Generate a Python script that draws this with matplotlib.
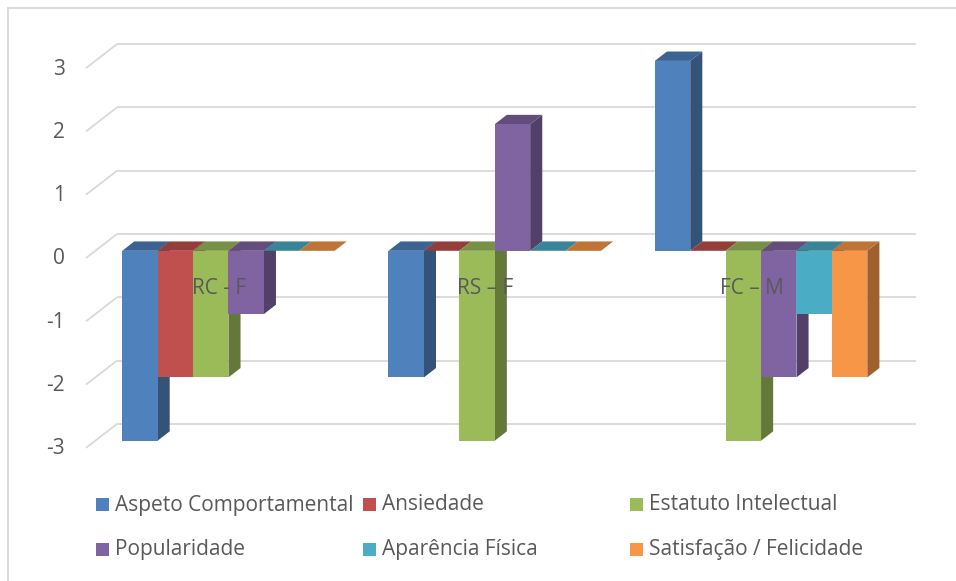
import matplotlib
matplotlib.use("Agg")
import matplotlib.pyplot as plt
from matplotlib.patches import Polygon, Rectangle
import numpy as np

# ---------------- data ----------------
categories = ["RC - F", "RS – F", "FC – M"]
series = ["Aspeto Comportamental", "Ansiedade", "Estatuto Intelectual",
          "Popularidade", "Aparência Física", "Satisfação / Felicidade"]
aspeto = [-3, -2, 3]
ansiedade = [-2, 0, 0]
estatuto = [-2, -3, -3]
popularidade = [-1, 2, -2]
aparencia = [0, 0, -1]
satisfacao = [0, 0, -2]
yticks = [3, 2, 1, 0, -1, -2, -3]

values = [aspeto, ansiedade, estatuto, popularidade, aparencia, satisfacao]
colors = ["#4F81BD", "#C0504D", "#9BBB59", "#8064A2", "#4BACC6", "#F79646"]

# ---------------- layout (pixel geometry) ----------------
W, H = 956, 581
X0PX, CATPX = 86.0, 266.3      # front plane left, pixels per category
Y0PX, UNITPX = 258.0, 63.3     # front plane zero, pixels per unit
DX = 31.0 / CATPX              # full depth offset (data units)
DY = 24.0 / UNITPX
D_FRONT, D_BAR = 0.30, 0.39    # bar front-face depth fraction and bar depth
GAP = 0.101
BW = 0.133

FONT = ["Open Sans", "DejaVu Sans"]
TXT = "#595959"
GRID = "#D9D9D9"
FS = 15.0

plt.rcParams["font.family"] = FONT

fig = plt.figure(figsize=(W / 100, H / 100), dpi=100)
ax = fig.add_axes([0, 0, 1, 1])
ax.set_xlim(-X0PX / CATPX, (W - X0PX) / CATPX)
ax.set_ylim((Y0PX - H) / UNITPX, Y0PX / UNITPX)
ax.axis("off")


def shade(c, f):
    r, g, b = matplotlib.colors.to_rgb(c)
    return (r * f, g * f, b * f)


# gridlines: back wall + side diagonals
for v in yticks:
    ax.plot([0, DX], [v, v + DY], color=GRID, lw=1.3, solid_capstyle="butt", zorder=1)
    ax.plot([DX, len(categories) + DX], [v + DY, v + DY], color=GRID, lw=1.3,
            solid_capstyle="butt", zorder=1)
    ax.text(-21.0 / CATPX, v - 1.0 / UNITPX, str(v), ha="right", va="center",
            fontsize=FS, color=TXT)

# bars
ox, oy = D_FRONT * DX, D_FRONT * DY
bx, by = D_BAR * DX, D_BAR * DY
z = 2
for ci in range(len(categories)):
    for si, vals in enumerate(values):
        v = vals[ci]
        c = colors[si]
        x0 = ci + GAP + si * BW + ox
        x1 = x0 + BW
        top = max(v, 0) + oy
        bot = min(v, 0) + oy
        # side face
        if v != 0:
            ax.add_patch(Polygon([(x1, bot), (x1 + bx, bot + by), (x1 + bx, top + by), (x1, top)],
                                 closed=True, fc=shade(c, 0.64), ec="none", zorder=z))
        # top face
        ax.add_patch(Polygon([(x0, top), (x1, top), (x1 + bx, top + by), (x0 + bx, top + by)],
                             closed=True, fc=shade(c, 0.77), ec="none", zorder=z))
        # front face
        if v != 0:
            ax.add_patch(Rectangle((x0, bot), BW, top - bot, fc=c, ec="none", zorder=z))
        z += 1

# category labels
for ci, lab in enumerate(categories):
    ax.text(ci + 0.5, (Y0PX - 289) / UNITPX, lab, ha="center", va="center",
            fontsize=FS, color=TXT, zorder=100)

# chart border (top and left)
fig.add_artist(plt.Line2D([7.5 / W, 1], [1 - 7.5 / H, 1 - 7.5 / H], color=GRID, lw=1.3))
fig.add_artist(plt.Line2D([7.5 / W, 7.5 / W], [0, 1 - 7.5 / H], color=GRID, lw=1.3))

# legend (manual)
col_x = [96, 363, 630]
row_y = [504, 549]
SQ = 13
for i, name in enumerate(series):
    r, cidx = divmod(i, 3)
    px, py = col_x[cidx], row_y[r]
    fig.add_artist(Rectangle((px / W, 1 - (py + SQ / 2) / H), SQ / W, SQ / H,
                             transform=fig.transFigure, fc=colors[i], ec="none"))
    fig.text((px + SQ + 6) / W, 1 - (py + 1) / H, name, ha="left", va="center",
             fontsize=FS, color=TXT)

fig.savefig("out.png", dpi=100)
